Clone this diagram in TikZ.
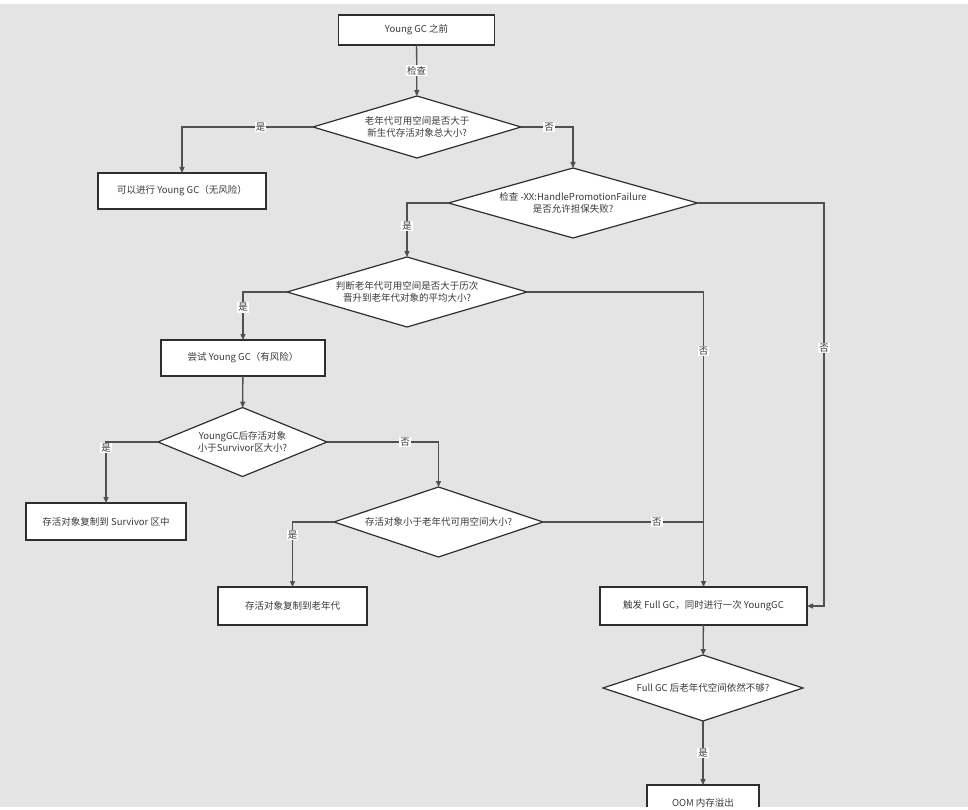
\documentclass[tikz,border=0pt]{standalone}
\usepackage{fontspec}
\setmainfont{Noto Sans CJK SC}
\usetikzlibrary{shapes.geometric,arrows.meta}
\definecolor{bg}{HTML}{E4E4E4}
\definecolor{txt}{HTML}{3A3A3A}
\definecolor{lncol}{HTML}{505050}
\definecolor{bd}{HTML}{2E2E2E}
\begin{document}
\begin{tikzpicture}[x=1pt,y=-1pt,
  every node/.style={font=\fontsize{9.5}{12}\selectfont, text=txt},
  proc/.style={draw=bd, line width=1.4pt, fill=white, inner sep=0pt, outer sep=0pt},
  dia/.style={diamond, draw=bd, line width=1.2pt, fill=white, inner sep=0pt, outer sep=0pt},
  dtext/.style={align=center, inner sep=0pt},
  lbl/.style={fill=white, inner sep=1pt},
  conn/.style={draw=lncol, line width=1.3pt},
  arr/.style={conn, -{Triangle[length=6pt,width=5pt]}}
]
\useasboundingbox (0,0) rectangle (968,810);
\fill[white] (0,0) rectangle (968,810);
\fill[bg] (0,4) rectangle (968,807);

% process boxes
\node[proc, minimum width=156pt, minimum height=30pt] (b1) at (416.5,30) {Young GC 之前};
\node[proc, minimum width=168pt, minimum height=36pt] (b2) at (182,191) {可以进行 Young GC（无风险）};
\node[proc, minimum width=164pt, minimum height=36pt] (b3) at (243,358) {尝试 Young GC（有风险）};
\node[proc, minimum width=160pt, minimum height=37pt] (b4) at (106,521.5) {存活对象复制到 Survivor 区中};
\node[proc, minimum width=149pt, minimum height=38pt] (b5) at (292.5,606) {存活对象复制到老年代};
\node[proc, minimum width=207pt, minimum height=38pt] (fg) at (703.5,606) {触发 Full GC，同时进行一次 YoungGC};
\node[proc, minimum width=112pt, minimum height=36pt] (b7) at (703,803) {OOM 内存溢出};

% decisions
\node[dia, minimum width=208pt, minimum height=62pt,
  label={[dtext]center:{老年代可用空间是否大于\\新生代存活对象总大小?}}] (d1) at (417,127) {};
\node[dia, minimum width=249pt, minimum height=70pt,
  label={[dtext]center:{检查 -XX:HandlePromotionFailure\\是否允许担保失败?}}] (d2) at (573,203) {};
\node[dia, minimum width=240pt, minimum height=70pt,
  label={[dtext]center:{判断老年代可用空间是否大于历次\\晋升到老年代对象的平均大小?}}] (d3) at (407,292) {};
\node[dia, minimum width=169pt, minimum height=69pt,
  label={[dtext]center:{YoungGC后存活对象\\小于Survivor区大小?}}] (d4) at (242.5,442) {};
\node[dia, minimum width=209pt, minimum height=70pt,
  label={[dtext]center:{存活对象小于老年代可用空间大小?}}] (d5) at (438.5,522) {};
\node[dia, minimum width=200pt, minimum height=66pt,
  label={[dtext]center:{Full GC 后老年代空间依然不够?}}] (d6) at (703,688) {};

% connectors
\draw[arr] (b1) -- node[lbl]{检查} (d1);
\draw[arr] (d1.west) -| node[lbl, pos=0.2]{是} (b2.north);
\draw[arr] (d1.east) -| node[lbl, pos=0.27]{否} (d2.north);
\draw[arr] (d2.west) -| node[lbl, pos=0.71]{是} (d3.north);
\draw[arr] (d2.east) -| node[lbl, pos=0.68]{否} ([xshift=17pt]fg.east) -- (fg.east);
\draw[arr] (d3.west) -| node[lbl, pos=0.66]{是} (b3.north);
\draw[arr] (d3.east) -| node[lbl, pos=0.6]{否} (fg.north);
\draw[arr] (b3) -- (d4);
\draw[arr] (d4.west) -| node[lbl, pos=0.55]{是} (b4.north);
\draw[arr] (d4.east) -| node[lbl, pos=0.35]{否} (d5.north);
\draw[arr] (d5.west) -| node[lbl, pos=0.6]{是} (b5.north);
\draw[conn] (d5.east) -- node[lbl, pos=0.71]{否} (fg.north |- d5.east);
\draw[arr] (fg) -- (d6);
\draw[arr] (d6) -- node[lbl]{是} (b7);

\fill[white] (0,807) rectangle (968,810);
\end{tikzpicture}
\end{document}
